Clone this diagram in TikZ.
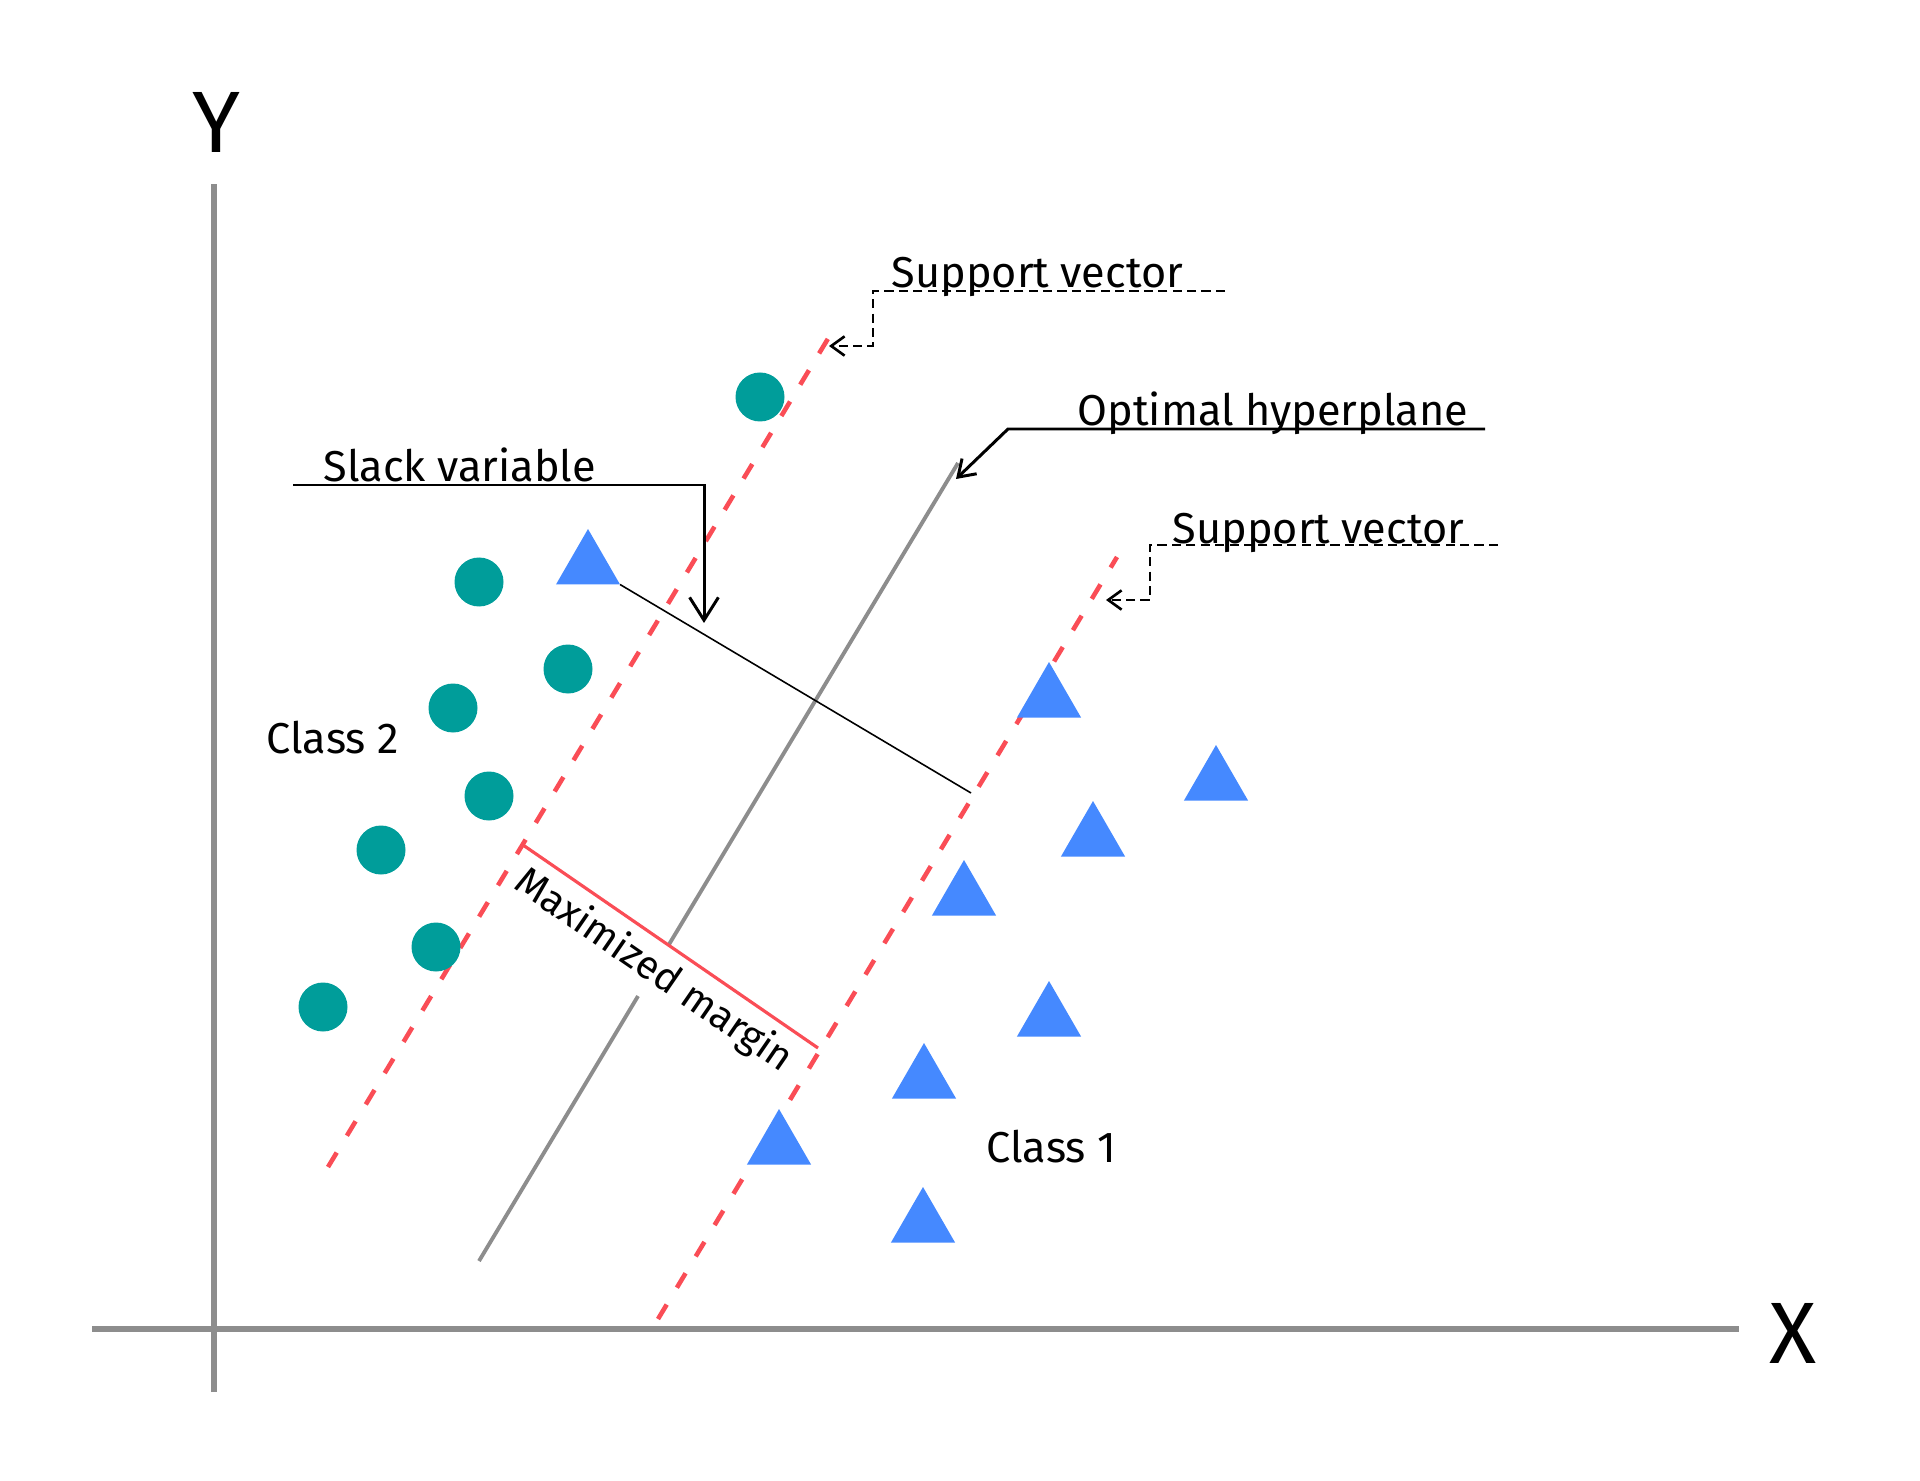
\documentclass[tikz,border=0pt]{standalone}
\usepackage{fontspec}
\setmainfont{Fira Sans}
\usetikzlibrary{shapes.geometric, calc, positioning, arrows.meta}
\definecolor{axisgray}{HTML}{8D8D8D}
\definecolor{dotteal}{HTML}{009D9A}
\definecolor{triblue}{HTML}{4589FF}
\definecolor{marginred}{HTML}{FA4D56}

\begin{document}
\begin{tikzpicture}[
  axis/.style={draw=axisgray, line width=1.7pt},
  hyper/.style={draw=axisgray, line width=1.1pt},
  margin/.style={draw=marginred, line width=1.3pt, dash pattern=on 4.8pt off 5.6pt},
  dot/.style={circle, fill=dotteal, minimum size=0.49cm, inner sep=0pt},
  tri/.style={regular polygon, regular polygon sides=3, fill=triblue, minimum size=0.74cm, inner sep=0pt, outer sep=0pt},
  lbl/.style={font=\fontsize{12.3}{15}\selectfont, inner sep=0pt, anchor=base west},
  axlbl/.style={font=\fontsize{24.8}{28}\selectfont, inner sep=0pt},
  lead/.style={line width=0.85pt},
  svlead/.style={line width=0.75pt, dash pattern=on 2.6pt off 1.5pt},
  >={Straight Barb[length=4.5pt, width=6pt]}]
  \useasboundingbox (0,0) rectangle (19.2,14.8);

  % axes
  \coordinate (xl) at (0.92,1.51);
  \coordinate (xr) at (17.39,1.51);
  \coordinate (yb) at (2.14,0.88);
  \coordinate (yt) at (2.14,12.96);
  \draw[axis] (xl) -- (xr);
  \draw[axis] (yb) -- (yt);
  \node[axlbl] (xlab) at (17.93,1.47) {X};
  \node[axlbl] (ylab) at (2.16,13.58) {Y};

  % hyperplane and the two margins
  \coordinate (hypA) at (4.79,2.19);
  \coordinate (hypB) at (9.58,10.17);
  \coordinate (mlA) at (3.28,3.13);
  \coordinate (mlB) at (8.29,11.43);
  \coordinate (mrA) at (6.58,1.61);
  \coordinate (mrB) at (11.17,9.23);
  \draw[margin] (mlA) -- (mlB);
  \draw[margin] (mrA) -- (mrB);
  \draw[hyper] (hypA) -- ($(hypA)!0.332!(hypB)$);
  \draw[hyper] ($(hypA)!0.396!(hypB)$) -- (hypB);
  \coordinate (mgA) at (5.23,6.35);
  \coordinate (mgB) at (8.18,4.32);
  \draw[draw=marginred, line width=0.9pt] (mgA) -- node[midway, sloped, below, font=\fontsize{11.3}{14}\selectfont, inner sep=2.5pt] (mglab) {Maximized margin} (mgB);

  % class 2
  \node[dot] (c1) at (7.60,10.83) {};
  \node[dot] (c2) at (4.79,8.98) {};
  \node[dot] (c3) at (5.68,8.11) {};
  \node[dot] (c4) at (4.53,7.72) {};
  \node[dot] (c5) at (4.89,6.84) {};
  \node[dot] (c6) at (3.81,6.30) {};
  \node[dot] (c7) at (4.36,5.33) {};
  \node[dot] (c8) at (3.23,4.73) {};
  \node[lbl] (cls2) at (2.66,7.27) {Class 2};

  % class 1
  \node[tri] (t0) at (5.88,9.14) {};
  \node[tri] (t1) at (10.49,7.81) {};
  \node[tri] (t2) at (12.16,6.98) {};
  \node[tri] (t3) at (10.93,6.42) {};
  \node[tri] (t4) at (9.64,5.83) {};
  \node[tri] (t5) at (10.49,4.62) {};
  \node[tri] (t6) at (9.24,4.00) {};
  \node[tri] (t7) at (7.79,3.34) {};
  \node[tri] (t8) at (9.23,2.56) {};
  \node[lbl] (cls1) at (9.86,3.18) {Class 1};

  % slack of the misplaced point
  \coordinate (slk) at (9.71,6.87);
  \draw[line width=0.45pt] (t0.corner 3) -- (slk);

  % leaders
  \coordinate (slkL) at (2.93,9.95);
  \coordinate (slkC) at (7.04,9.95);
  \coordinate (slkT) at (7.04,8.57);
  \node[lbl] (slack) at (3.23,9.98) {Slack variable};
  \draw[lead, -{Straight Barb[length=6.5pt, width=8.2pt]}] (slkL) -- (slkC) -- (slkT);

  \coordinate (optR) at (14.85,10.51);
  \coordinate (optC) at (10.08,10.51);
  \coordinate (optT) at (9.56,10.01);
  \node[lbl] (optlab) at (10.77,10.54) {Optimal hyperplane};
  \draw[lead, ->] (optR) -- (optC) -- (optT);

  \coordinate (sv1R) at (12.25,11.89);
  \coordinate (sv1C) at (8.73,11.89);
  \coordinate (sv1D) at (8.73,11.34);
  \coordinate (sv1T) at (8.29,11.34);
  \node[lbl] (sv1lab) at (8.91,11.92) {Support vector};
  \draw[svlead, -{Straight Barb[length=3.8pt, width=5.5pt]}] (sv1R) -- (sv1C) -- (sv1D) -- (sv1T);

  \coordinate (sv2R) at (14.98,9.35);
  \coordinate (sv2C) at (11.50,9.35);
  \coordinate (sv2D) at (11.50,8.80);
  \coordinate (sv2T) at (11.06,8.80);
  \node[lbl] (sv2lab) at (11.72,9.37) {Support vector};
  \draw[svlead, -{Straight Barb[length=3.8pt, width=5.5pt]}] (sv2R) -- (sv2C) -- (sv2D) -- (sv2T);
\end{tikzpicture}
\end{document}
